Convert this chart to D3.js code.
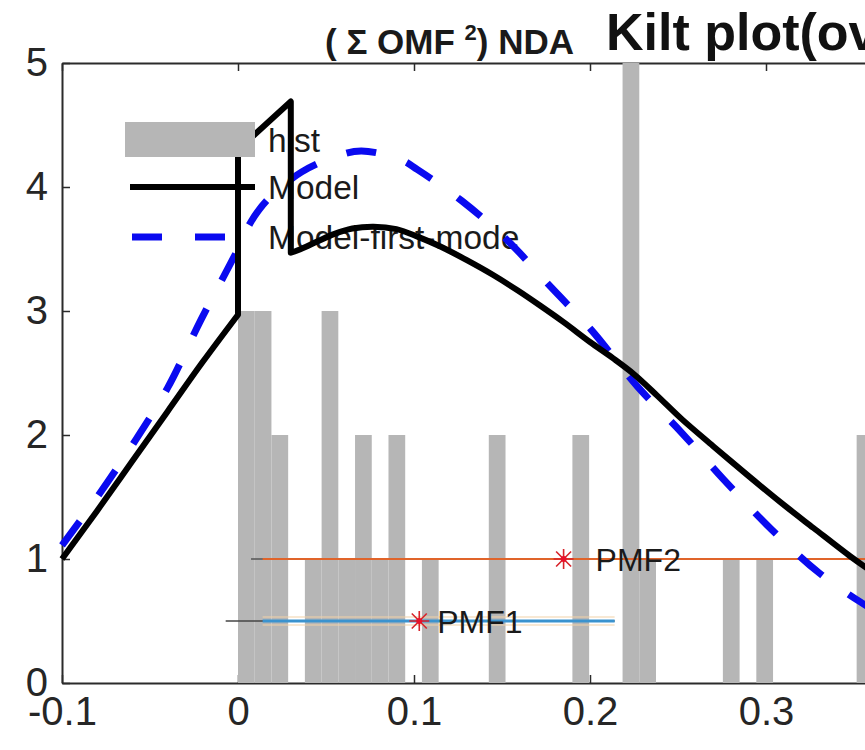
<!DOCTYPE html>
<html><head><meta charset="utf-8">
<script src="https://cdn.jsdelivr.net/npm/d3@7"></script>
<style>
body{margin:0;background:#fff;}
svg{display:block;font-family:"Liberation Sans",Arial,Helvetica,sans-serif;}
</style>
</head><body>
<svg id="chart" width="865" height="750"></svg>
<script>
// ---------------- data ----------------
const binStart = 0;
const binWidth = 0.0095;
const histCounts = [3,3,2,0,1,3,1,2,1,2,0,1,0,0,0,2,0,0,0,0,2,0,0,5,1,0,0,0,0,1,0,1,0,0,0,0,0,2];

// Model curve: left rise, jump block at 0..0.03, right hump
const modelLeftX  = [-0.1,-0.08,-0.06,-0.04,-0.02,0];
const modelLeftY  = [1.0,1.39,1.79,2.19,2.59,2.97];
const modelJumpX  = [0,0,0.03,0.03];
const modelJumpY  = [2.97,4.30,4.69,3.47];
const modelRightX = [0.03,0.034,0.045,0.0545,0.065,0.077,0.09,0.102,0.115,0.13,0.145,0.159,0.172,0.185,0.2,0.213,0.225,0.238,0.252,0.27,0.29,0.308,0.327,0.348,0.357,0.37];
const modelRightY = [3.47,3.49,3.56,3.62,3.665,3.68,3.66,3.6,3.52,3.41,3.29,3.165,3.04,2.91,2.75,2.62,2.49,2.32,2.13,1.91,1.67,1.46,1.25,1.02,0.93,0.81];

const firstModeX = [-0.1,-0.08,-0.06,-0.04,-0.021,0,0.0074,0.017,0.036,0.0545,0.07,0.0926,0.102,0.127,0.153,0.178,0.2006,0.227,0.252,0.276,0.303,0.33,0.354,0.37];
const firstModeY = [1.11,1.5,1.92,2.38,2.93,3.5,3.72,3.9,4.12,4.24,4.29,4.22,4.14,3.89,3.57,3.19,2.85,2.39,2.02,1.64,1.24,0.89,0.65,0.52];

const pmfNames  = ["PMF1","PMF2"];
const pmfValues = [0.103, 0.185];
const pmfLevels = [0.5, 1.0];
const pmfLow    = [-0.007, 0.0074];
const pmfHigh   = [0.214, 0.42];

const xTicks = [-0.1, 0, 0.1, 0.2, 0.3];
const yTicks = [0, 1, 2, 3, 4, 5];
const legendLabels = ["hist", "Model", "Model-first-mode"];

// ---------------- layout ----------------
const svg = d3.select("#chart");
const x = d3.scaleLinear().domain([-0.1, 0.4]).range([62, 942]);
const y = d3.scaleLinear().domain([0, 5]).range([683, 63]);
const axisColor = "#2b2b2b";
const tickFont = 40;
const fmt = d => String(+(+d).toFixed(2));

// axes
const gB = svg.append("g").attr("transform", `translate(0,${y(0)})`)
  .call(d3.axisBottom(x).tickValues(xTicks).tickSizeInner(-8).tickSizeOuter(0).tickPadding(14).tickFormat(fmt));
const gT = svg.append("g").attr("transform", `translate(0,${y(5)})`)
  .call(d3.axisTop(x).tickValues(xTicks).tickSizeInner(-8).tickSizeOuter(0).tickFormat(""));
const gL = svg.append("g").attr("transform", `translate(${x(-0.1)},0)`)
  .call(d3.axisLeft(y).tickValues(yTicks).tickSizeInner(-8).tickSizeOuter(0).tickPadding(14).tickFormat(fmt));
[gB, gT, gL].forEach(g => {
  g.select(".domain").attr("stroke", axisColor).attr("stroke-width", 2);
  g.selectAll(".tick line").attr("stroke", axisColor).attr("stroke-width", 1.5);
  g.selectAll(".tick text").attr("fill", "#262626").style("font-size", tickFont + "px")
   .style("font-family", '"Liberation Sans",Arial,sans-serif');
});

// histogram bars
const bars = histCounts.map((c, i) => ({x0: binStart + i * binWidth, x1: binStart + (i + 1) * binWidth, c}));
svg.append("g").selectAll("rect").data(bars.filter(d => d.c > 0)).join("rect")
  .attr("x", d => x(d.x0)).attr("width", d => x(d.x1) - x(d.x0))
  .attr("y", d => y(d.c)).attr("height", d => y(0) - y(d.c))
  .attr("fill", "#b6b6b6");

// PMF bars
const pmf = pmfNames.map((n, i) => ({name: n, v: pmfValues[i], lvl: pmfLevels[i], lo: pmfLow[i], hi: pmfHigh[i], i}));
const gp = svg.append("g");
pmf.forEach(p => {
  const yy = y(p.lvl);
  const colStart = x(0.014);
  if (p.i === 0) {
    gp.append("line").attr("x1", colStart).attr("x2", x(p.hi)).attr("y1", yy - 4).attr("y2", yy - 4)
      .attr("stroke", "#f2d2a8").attr("stroke-width", 1.2);
    gp.append("line").attr("x1", colStart).attr("x2", x(p.hi)).attr("y1", yy + 4).attr("y2", yy + 4)
      .attr("stroke", "#f2d2a8").attr("stroke-width", 1.2);
    gp.append("line").attr("x1", x(p.lo)).attr("x2", x(p.hi)).attr("y1", yy).attr("y2", yy)
      .attr("stroke", "#444").attr("stroke-width", 1.5);
    gp.append("line").attr("x1", colStart).attr("x2", x(p.hi)).attr("y1", yy).attr("y2", yy)
      .attr("stroke", "#3b93cf").attr("stroke-width", 3);
  } else {
    gp.append("line").attr("x1", x(p.lo)).attr("x2", x(p.hi)).attr("y1", yy).attr("y2", yy)
      .attr("stroke", "#555").attr("stroke-width", 1.5);
    gp.append("line").attr("x1", colStart).attr("x2", x(p.hi)).attr("y1", yy).attr("y2", yy)
      .attr("stroke", "#e0642a").attr("stroke-width", 2.2);
  }
  const m = gp.append("g").attr("transform", `translate(${x(p.v)},${yy})`);
  const r = 10, rd = 7.5;
  m.append("path").attr("d", `M${-r},0H${r}M0,${-r}V${r}M${-rd},${-rd}L${rd},${rd}M${-rd},${rd}L${rd},${-rd}`)
    .attr("stroke", "#d8232a").attr("stroke-width", 1.6).attr("fill", "none");
  m.append("circle").attr("r", 3).attr("fill", "#e8102a");
  gp.append("text").attr("x", x(p.v) + (p.i === 0 ? 18 : 32)).attr("y", yy + 12)
    .attr("font-size", 32).attr("fill", "#1a1a1a").text(p.name);
});

// legend text (underneath curves)
const legRows = [140, 187, 237];
const gLegT = svg.append("g");
legendLabels.forEach((t, i) => {
  gLegT.append("text").attr("x", 268).attr("y", legRows[i] + 12).attr("font-size", 33.5)
    .attr("fill", "#1a1a1a").text(t);
});

// curves
const smooth = d3.line().x(d => x(d[0])).y(d => y(d[1])).curve(d3.curveCatmullRom);
const straight = d3.line().x(d => x(d[0])).y(d => y(d[1]));
const pts = (xs, ys) => xs.map((v, i) => [v, ys[i]]);
svg.append("path").datum(pts(firstModeX, firstModeY))
  .attr("d", smooth).attr("fill", "none")
  .attr("stroke", "#0a0af0").attr("stroke-width", 7).attr("stroke-dasharray", "30,32");
const modelPath = smooth(pts(modelLeftX, modelLeftY))
  + straight(pts(modelJumpX, modelJumpY)).replace(/^M/, "L")
  + smooth(pts(modelRightX, modelRightY)).replace(/^M/, "L");
svg.append("path").attr("d", modelPath).attr("fill", "none")
  .attr("stroke", "#000").attr("stroke-width", 6).attr("stroke-linejoin", "round");

// legend symbols
const gLeg = svg.append("g");
gLeg.append("rect").attr("x", 125).attr("y", 122).attr("width", 130).attr("height", 35).attr("fill", "#b6b6b6");
gLeg.append("line").attr("x1", 130).attr("x2", 255).attr("y1", legRows[1]).attr("y2", legRows[1])
  .attr("stroke", "#000").attr("stroke-width", 6);
gLeg.append("line").attr("x1", 132).attr("x2", 255).attr("y1", legRows[2]).attr("y2", legRows[2])
  .attr("stroke", "#0a0af0").attr("stroke-width", 7).attr("stroke-dasharray", "30,33");

// titles
const t1 = svg.append("text").attr("x", 325).attr("y", 54).attr("font-size", 35).attr("font-weight", "bold")
  .attr("fill", "#1a1a1a");
t1.append("tspan").text("( Σ OMF ");
t1.append("tspan").attr("dy", -14).attr("font-size", 22).text("2");
t1.append("tspan").attr("dy", 14).text(") NDA");
svg.append("text").attr("x", 606).attr("y", 50).attr("font-size", 52).attr("font-weight", "bold")
  .attr("fill", "#111").text("Kilt plot(ov");
</script>
</body></html>
